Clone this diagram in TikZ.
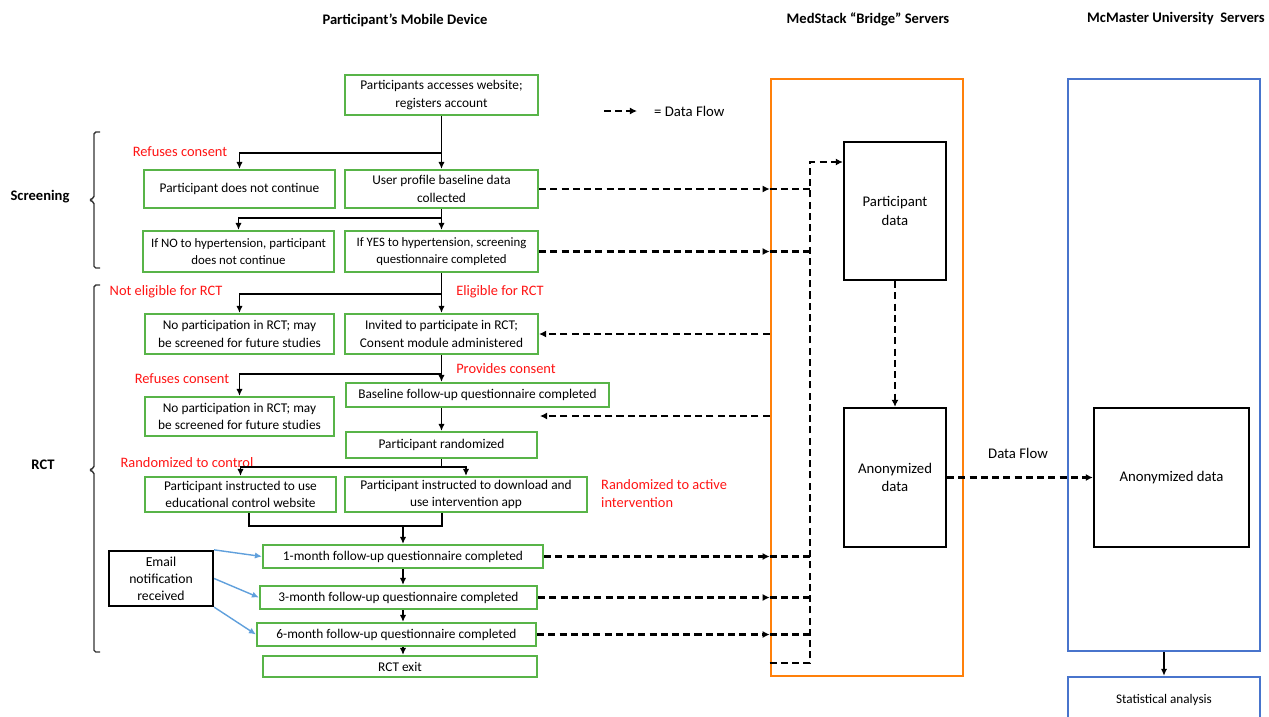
\documentclass[tikz,border=0pt]{standalone}
\usepackage{fontspec}
\setmainfont{Carlito}
\usepackage{tikz}
\usetikzlibrary{arrows.meta}

\definecolor{boxgreen}{RGB}{88,180,72}
\definecolor{bridgeorange}{RGB}{255,128,10}
\definecolor{macblue}{RGB}{72,116,204}
\definecolor{mailblue}{RGB}{96,160,220}
\definecolor{labelred}{RGB}{255,20,20}

\tikzset{
  wh/.style 2 args={minimum width=#1*0.02cm, minimum height=#2*0.02cm},
  gbox/.style={draw=boxgreen, line width=1.2pt, align=center, inner sep=1pt, font=\fontsize{7.6}{9.8}\selectfont},
  sbox/.style={draw, line width=1.3pt, align=center, inner sep=1pt, font=\fontsize{8.4}{10.4}\selectfont},
  hdr/.style={font=\bfseries\fontsize{8.3}{10}\selectfont},
  rlbl/.style={text=labelred, font=\fontsize{8.2}{10.2}\selectfont},
  arr/.style={line width=0.8pt, -{Latex[length=4pt,width=3.6pt]}},
  flow/.style={line width=1.3pt, dash pattern=on 4pt off 2.4pt, -{Latex[length=4pt,width=4pt]}},
  flowline/.style={line width=1.3pt, dash pattern=on 4pt off 2.4pt},
  mailarr/.style={draw=mailblue, line width=0.8pt, -{Latex[length=4pt,width=3.6pt]}},
  brk/.style={line width=0.8pt, draw=black!80, rounded corners=1pt}
}

\begin{document}
\begin{tikzpicture}[x=0.02cm,y=-0.02cm]
\useasboundingbox (0,0) rectangle (1269,717);

\node[hdr] (hdrPhone) at (405,20) {Participant’s Mobile Device};
\node[hdr] (hdrBridge) at (868,19) {MedStack “Bridge” Servers};
\node[hdr] (hdrMac) at (1176,19) {McMaster University\ \ Servers};
\node[hdr] (secScreen) at (40,197) {Screening};
\node[hdr] (secRct) at (43,465) {RCT};

\node[gbox, wh={193}{40}] (access) at (441.5,95) {Participants accesses website;\\registers account};
\node[gbox, wh={191}{38}] (stop1) at (239.5,189) {Participant does not continue};
\node[gbox, wh={193}{38}] (profile) at (441.5,189) {User profile baseline data\\collected};
\node[gbox, wh={191}{41}, font=\fontsize{7.3}{9.6}\selectfont] (htnNo) at (238.5,251.5) {If NO to hypertension, participant\\does not continue};
\node[gbox, wh={193}{41}, font=\fontsize{7.3}{9.6}\selectfont] (htnYes) at (441.5,251.5) {If YES to hypertension, screening\\questionnaire completed};
\node[gbox, wh={189}{40}] (noRct1) at (239.5,334) {No participation in RCT; may\\be screened for future studies};
\node[gbox, wh={193}{40}] (invite) at (441.5,334) {Invited to participate in RCT;\\Consent module administered};
\node[gbox, wh={263}{24}] (baseline) at (477.5,395) {Baseline follow-up questionnaire completed};
\node[gbox, wh={189}{39}] (noRct2) at (239.5,416.5) {No participation in RCT; may\\be screened for future studies};
\node[gbox, wh={191}{26}] (random) at (441.5,445) {Participant randomized};
\node[gbox, wh={191}{35}] (control) at (240.5,494.5) {Participant instructed to use\\educational control website};
\node[gbox, wh={242}{35}] (interv) at (466,494.5) {Participant instructed to download and\\use intervention app};
\node[gbox, wh={280}{23}] (fu1) at (403,556.5) {1-month follow-up questionnaire completed};
\node[gbox, wh={277}{23}] (fu3) at (398.5,597.5) {3-month follow-up questionnaire completed};
\node[gbox, wh={279}{23}] (fu6) at (396.5,634.5) {6-month follow-up questionnaire completed};
\node[gbox, wh={274}{21}] (rctExit) at (400,666.5) {RCT exit};
\node[sbox, wh={104}{55}, font=\fontsize{7.8}{9.6}\selectfont] (email) at (161,578.5) {Email\\notification\\received};

\node[rlbl] (lblRefuse1) at (180,152) {Refuses consent};
\node[rlbl] (lblNotElig) at (166,292) {Not eligible for RCT};
\node[rlbl] (lblElig) at (500,292) {Eligible for RCT};
\node[rlbl] (lblProvides) at (506,369) {Provides consent};
\node[rlbl] (lblRefuse2) at (182,379) {Refuses consent};
\node[rlbl] (lblControl) at (187,463) {Randomized to control};
\node[rlbl, anchor=west, align=left] (lblActive) at (595,494) {Randomized to active\\intervention};

\node[draw=bridgeorange, line width=1.5pt, wh={192}{597}] (bridge) at (867,377.5) {};
\node[draw=macblue, line width=1.3pt, wh={192}{572}] (mac) at (1164,365) {};
\node[draw=macblue, line width=1.3pt, wh={192}{45}, font=\fontsize{7.5}{9}\selectfont] (stats) at (1164,699.5) {Statistical analysis};
\node[sbox, wh={102}{138}] (partData) at (895,211) {Participant\\data};
\node[sbox, wh={102}{139}] (anonBridge) at (895,477.5) {Anonymized\\data};
\node[sbox, wh={155}{139}] (anonMac) at (1171.5,477.5) {Anonymized data};
\node[font=\fontsize{8.4}{10}\selectfont] (flowLbl) at (1018,453) {Data Flow};

\coordinate (lgA) at (604,111);
\coordinate (lgB) at (637,111);
\node[anchor=west, font=\fontsize{8.4}{10}\selectfont] (legendTxt) at (648,111) {= Data Flow};
\draw[flow] (lgA) -- (lgB);

\coordinate (j1) at (441.5,153);
\coordinate (j2) at (441.5,218);
\coordinate (j3) at (441.5,294);
\coordinate (j4) at (441.5,374);
\coordinate (j5) at (441.5,467);
\coordinate (m1) at (249,526);
\coordinate (m2) at (442,526);
\coordinate (m3) at (403,526);
\draw[arr] (access.south) -- (profile.north);
\draw[arr] (j1) -| (stop1.north);
\draw[arr] (profile.south) -- (htnYes.north);
\draw[arr] (j2) -| (htnNo.north);
\draw[arr] (htnYes.south) -- (invite.north);
\draw[arr] (j3) -| (noRct1.north);
\draw[arr] (invite.south) -- (invite.south |- baseline.north);
\draw[arr] (j4) -| (noRct2.north);
\draw[arr] (random.north |- baseline.south) -- (random.north);
\draw[line width=0.8pt] (random.south) -- (j5);
\draw[arr] (j5) -| (control.north);
\draw[arr] (j5) -| (interv.north);
\draw[line width=0.8pt] (control.south -| m1) |- (m2) -- (interv.south -| m2);
\draw[arr] (m3) -- (fu1.north);
\draw[arr] (fu1.south) -- (fu1.south |- fu3.north);
\draw[arr] (fu3.south -| fu1.south) -- (fu1.south |- fu6.north);
\draw[arr] (fu6.south -| fu1.south) -- (fu1.south |- rctExit.north);

\draw[mailarr] (email.north east) -- (fu1.west);
\draw[mailarr] (email.east) -- (fu3.west);
\draw[mailarr] (email.south east) -- (fu6.west);

\coordinate (busTop) at (810,162);
\coordinate (busBot) at (810,663);
\coordinate (blEnd) at (540,416);
\draw[flow] (busBot -| bridge.west) -- (busBot) -- (busTop) -- (busTop -| partData.west);
\draw[flow] (profile.east) -- (profile.east -| bridge.west);
\draw[flowline] (profile.east -| bridge.west) -- (profile.east -| busTop);
\draw[flow] (htnYes.east) -- (htnYes.east -| bridge.west);
\draw[flowline] (htnYes.east -| bridge.west) -- (htnYes.east -| busTop);
\draw[flow] (invite.east -| bridge.west) -- (invite.east);
\draw[flow] (blEnd -| bridge.west) -- (blEnd);
\draw[flow] (fu1.east) -- (fu1.east -| bridge.west);
\draw[flowline] (fu1.east -| bridge.west) -- (fu1.east -| busTop);
\draw[flow] (fu3.east) -- (fu3.east -| bridge.west);
\draw[flowline] (fu3.east -| bridge.west) -- (fu3.east -| busTop);
\draw[flow] (fu6.east) -- (fu6.east -| bridge.west);
\draw[flowline] (fu6.east -| bridge.west) -- (fu6.east -| busTop);
\draw[flow] (partData.south) -- (anonBridge.north);
\draw[flow] (anonBridge.east) -- (anonMac.west);
\draw[arr] (mac.south) -- (stats.north);

\draw[brk] (100,132) -- (94,132) -- (94,198) -- (89,200) -- (94,202) -- (94,268) -- (100,268);
\draw[brk] (100,285) -- (94,285) -- (94,468) -- (89,470) -- (94,472) -- (94,652) -- (100,652);
\end{tikzpicture}
\end{document}
